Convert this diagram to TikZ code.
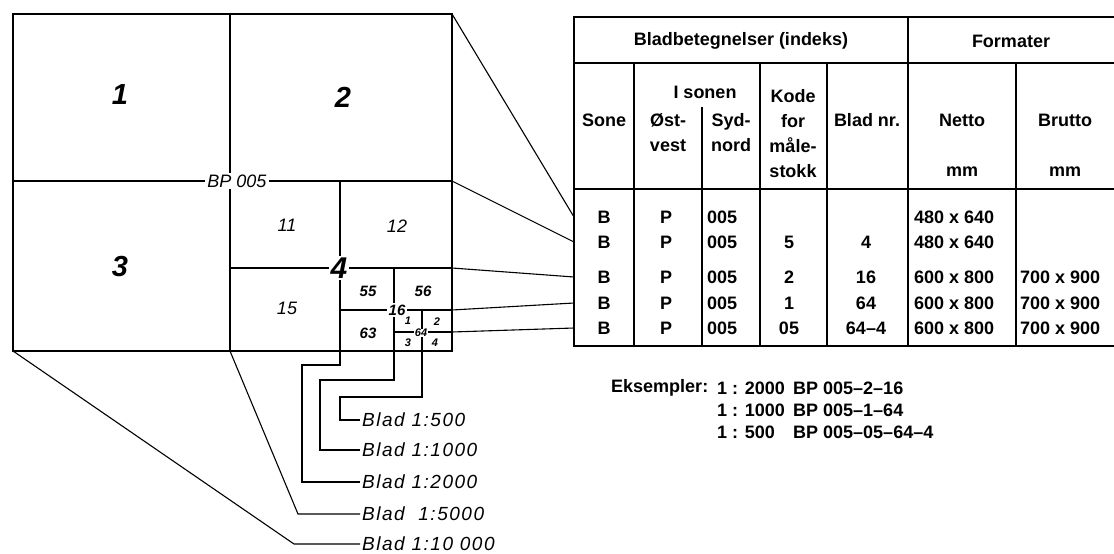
\documentclass[tikz,border=0pt]{standalone}
\usepackage{fontspec}
\setmainfont{Liberation Sans}
\newfontfamily\bladfont[LetterSpace=8]{Liberation Sans}

\begin{document}
\begin{tikzpicture}[
  x=1pt,y=-1pt,
  mapframe/.style={line width=2.6pt},
  gridline/.style={line width=1.6pt},
  tabline/.style={line width=1.2pt},
  leader/.style={line width=1.1pt},
  bignum/.style={font=\fontsize{29}{30}\selectfont\bfseries\itshape},
  sheet/.style={font=\fontsize{18}{20}\selectfont\itshape,inner sep=2pt},
  subsheet/.style={font=\fontsize{15}{16}\selectfont\bfseries\itshape,inner sep=1.5pt},
  tinysheet/.style={font=\fontsize{11}{12}\selectfont\bfseries\itshape,inner sep=0.5pt},
  gap/.style={fill=white},
  cell/.style={font=\fontsize{18}{25}\selectfont\bfseries,align=center,inner sep=1pt},
  blad/.style={font=\fontsize{19}{20}\bladfont\itshape,anchor=west,inner sep=2pt},
]
\useasboundingbox (0,0) rectangle (1114,554);

% kartblad BP 005
\coordinate (bp-nw) at (13,14);
\coordinate (bp-ne) at (452,14);
\coordinate (bp-sw) at (13,351);
\coordinate (bp-se) at (452,351);
\coordinate (s4-ne) at (452,181);
\coordinate (s16-ne) at (452,268);
\coordinate (s64-ne) at (452,310);
\coordinate (s644-ne) at (452,332);
\coordinate (s4-sw) at (230,351);
\coordinate (s16-sw) at (340,351);
\coordinate (s64-sw) at (394,351);
\coordinate (s644-sw) at (422,351);

\draw[mapframe] (bp-nw) rectangle (bp-se);
\draw[gridline] (230,14) -- (s4-sw) (13,181) -- (s4-ne);
\draw[gridline] (340,181) -- (s16-sw) (230,268) -- (s16-ne);
\draw[gridline] (394,268) -- (s64-sw) (340,310) -- (s64-ne);
\draw[gridline] (422,310) -- (s644-sw) (394,332) -- (s644-ne);

\node[bignum] (n1) at (120,95) {1};
\node[bignum] (n2) at (343,97) {2};
\node[bignum] (n3) at (120,267) {3};
\node[sheet,gap] (bp) at (237,181) {BP 005};
\node[sheet] (n11) at (287,225) {11};
\node[sheet] (n12) at (397,226) {12};
\node[sheet] (n15) at (287,308) {15};
\node[gap,font=\fontsize{30}{30}\selectfont\bfseries\itshape,inner sep=2pt] (n4) at (339,268) {4};
\node[subsheet] (n55) at (368,291) {55};
\node[subsheet] (n56) at (423,291) {56};
\node[subsheet] (n63) at (368,333) {63};
\node[subsheet,gap] (n16) at (397,310) {16};
\node[tinysheet,gap] (n64) at (421,333) {64};
\node[tinysheet] (n641) at (408,321) {1};
\node[tinysheet] (n642) at (437,322) {2};
\node[tinysheet] (n643) at (408,343) {3};
\node[tinysheet] (n644) at (435,343) {4};

% tabell
\draw[tabline] (1114,17) -- (574,17) -- (574,346) -- (1114,346);
\draw[tabline] (574,63) -- (1114,63) (574,189) -- (1114,189);
\draw[tabline] (634,63) -- (634,346) (702,107) -- (702,346) (760,63) -- (760,346);
\draw[tabline] (827,63) -- (827,346) (908,17) -- (908,346) (1016,63) -- (1016,346);

\node[cell] (h-blad) at (741,41) {Bladbetegnelser (indeks)};
\node[cell] (h-format) at (1011,41) {Formater};
\node[cell] (h-sone) at (604,120) {Sone};
\node[cell] (h-isonen) at (705,92) {I sonen};
\node[cell] (h-ost) at (668,133) {Øst-\\vest};
\node[cell] (h-syd) at (731,133) {Syd-\\nord};
\node[cell] (h-kode) at (793,134) {Kode\\for\\måle-\\stokk};
\node[cell] (h-nr) at (867,120) {Blad nr.};
\node[cell] (h-netto) at (962,120) {Netto};
\node[cell] (h-nettomm) at (962,172) {mm};
\node[cell] (h-brutto) at (1065,120) {Brutto};
\node[cell] (h-bruttomm) at (1065,172) {mm};

% rader
\coordinate (r1) at (574,217);
\coordinate (r2) at (574,242);
\coordinate (r3) at (574,277);
\coordinate (r4) at (574,303);
\coordinate (r5) at (574,328);

\node[cell] (r1-sone) at (604,217) {B};
\node[cell] (r1-ost) at (666,217) {P};
\node[cell,anchor=west] (r1-syd) at (706,217) {005};
\node[cell,anchor=west] (r1-netto) at (913,217) {480 x 640};

\node[cell] (r2-sone) at (604,242) {B};
\node[cell] (r2-ost) at (666,242) {P};
\node[cell,anchor=west] (r2-syd) at (706,242) {005};
\node[cell] (r2-kode) at (789,242) {5};
\node[cell] (r2-nr) at (866,242) {4};
\node[cell,anchor=west] (r2-netto) at (913,242) {480 x 640};

\node[cell] (r3-sone) at (604,277) {B};
\node[cell] (r3-ost) at (666,277) {P};
\node[cell,anchor=west] (r3-syd) at (706,277) {005};
\node[cell] (r3-kode) at (789,277) {2};
\node[cell] (r3-nr) at (866,277) {16};
\node[cell,anchor=west] (r3-netto) at (913,277) {600 x 800};
\node[cell,anchor=west] (r3-brutto) at (1019,277) {700 x 900};

\node[cell] (r4-sone) at (604,303) {B};
\node[cell] (r4-ost) at (666,303) {P};
\node[cell,anchor=west] (r4-syd) at (706,303) {005};
\node[cell] (r4-kode) at (789,303) {1};
\node[cell] (r4-nr) at (866,303) {64};
\node[cell,anchor=west] (r4-netto) at (913,303) {600 x 800};
\node[cell,anchor=west] (r4-brutto) at (1019,303) {700 x 900};

\node[cell] (r5-sone) at (604,328) {B};
\node[cell] (r5-ost) at (666,328) {P};
\node[cell,anchor=west] (r5-syd) at (706,328) {005};
\node[cell] (r5-kode) at (789,328) {05};
\node[cell] (r5-nr) at (866,328) {64--4};
\node[cell,anchor=west] (r5-netto) at (913,328) {600 x 800};
\node[cell,anchor=west] (r5-brutto) at (1019,328) {700 x 900};

% kart til tabell
\draw[leader] (bp-ne) -- (r1);
\draw[leader] (s4-ne) -- (r2);
\draw[leader] (s16-ne) -- (r3);
\draw[leader] (s64-ne) -- (r4);
\draw[leader] (s644-ne) -- (r5);

% bladmerker
\node[blad] (b500) at (360,420) {Blad 1:500};
\node[blad] (b1000) at (360,450) {Blad 1:1000};
\node[blad] (b2000) at (360,482) {Blad 1:2000};
\node[blad] (b5000) at (360,514) {Blad\ \ 1:5000};
\node[blad] (b10000) at (360,544) {Blad 1:10 000};

\draw[leader] (s644-sw) -- (422,397) -| (340,420) -- (b500.west);
\draw[leader] (s64-sw) -- (394,380) -| (320,450) -- (b1000.west);
\draw[leader] (s16-sw) -- (340,365) -| (302,482) -- (b2000.west);
\draw[leader] (s4-sw) -- (298,514) -- (b5000.west);
\draw[leader] (bp-sw) -- (294,544) -- (b10000.west);

% eksempler
\node[cell,anchor=west] (eks) at (610,388) {Eksempler:};
\node[cell,anchor=west] (m2000) at (716,388) {1 : 2000};
\node[cell,anchor=west] (k2000) at (792,388) {BP 005--2--16};
\node[cell,anchor=west] (m1000) at (716,410) {1 : 1000};
\node[cell,anchor=west] (k1000) at (792,410) {BP 005--1--64};
\node[cell,anchor=west] (m500) at (716,432) {1 : 500};
\node[cell,anchor=west] (k500) at (792,432) {BP 005--05--64--4};

\end{tikzpicture}
\end{document}
